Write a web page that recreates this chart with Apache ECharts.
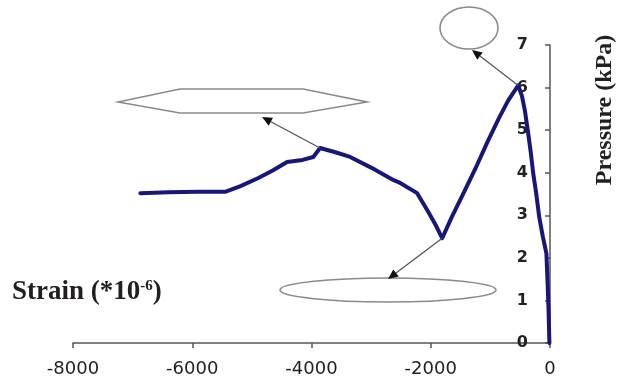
<!DOCTYPE html>
<html><head><meta charset="utf-8">
<script src="https://cdn.jsdelivr.net/npm/echarts@6/dist/echarts.min.js"></script>
<style>html,body{margin:0;padding:0;background:#fff}#c{width:627px;height:382px}</style>
</head><body><div id="c"></div>
<script>
// Data
const strain = [-6870,-6400,-5900,-5450,-5200,-4900,-4650,-4410,-4150,-3970,-3856,-3600,-3352,-3000,-2630,-2513,-2228,-2050,-1920,-1808,-1650,-1450,-1250,-1050,-850,-700,-533,-470,-420,-366,-320,-282,-230,-181,-120,-60,-40,-25,-10];
const pressure = [3.52,3.54,3.55,3.55,3.68,3.87,4.05,4.25,4.30,4.37,4.58,4.48,4.37,4.12,3.83,3.76,3.52,3.10,2.78,2.46,2.95,3.52,4.10,4.72,5.30,5.70,6.05,5.80,5.45,4.93,4.45,3.99,3.50,2.96,2.50,2.10,1.40,0.80,0];
const xTicks = {min:-8000, max:0, step:2000};
const yTicks = {min:0, max:7, step:1};
const annotationPoints = [[-3856,4.58],[-1808,2.46],[-533,6.05]];

const chart = echarts.init(document.getElementById('c'), null, {renderer:'canvas'});
const serif = 'Liberation Serif, Times New Roman, serif';
chart.setOption({
  animation:false,
  grid:{left:73,right:77,top:45,bottom:39},
  xAxis:{type:'value',min:xTicks.min,max:xTicks.max,interval:xTicks.step,
    axisLine:{onZero:false,lineStyle:{color:'#555',width:1.5}},
    axisTick:{length:5,lineStyle:{color:'#555',width:1.5}},
    axisLabel:{fontFamily:'DejaVu Sans',fontSize:18,color:'#222',margin:17,formatter:v=>String(v)},
    splitLine:{show:false}},
  yAxis:{type:'value',position:'right',min:yTicks.min,max:yTicks.max,interval:yTicks.step,
    axisLine:{show:true,onZero:false,lineStyle:{color:'#555',width:1.5}},
    axisTick:{show:true,inside:true,length:5,lineStyle:{color:'#555',width:1.5}},
    axisLabel:{inside:true,margin:22,fontFamily:'DejaVu Sans',fontWeight:'bold',fontSize:16,color:'#222',formatter:v=>String(v)},
    splitLine:{show:false}},
  series:[{type:'line',data:strain.map((s,i)=>[s,pressure[i]]),symbol:'none',smooth:false,
    lineStyle:{color:'#17177a',width:4,join:'round',cap:'round'},z:3}]
});

function arrow(from,to){
  const dx=to[0]-from[0], dy=to[1]-from[1], L=Math.hypot(dx,dy), ux=dx/L, uy=dy/L;
  const hl=10, hw=4.5;
  const bx=to[0]-ux*hl, by=to[1]-uy*hl;
  return [
    {type:'line',shape:{x1:from[0],y1:from[1],x2:bx,y2:by},style:{stroke:'#555',lineWidth:1.3},z:10},
    {type:'polygon',shape:{points:[[to[0],to[1]],[bx-uy*hw,by+ux*hw],[bx+uy*hw,by-ux*hw]]},style:{fill:'#111'},z:10}
  ];
}
const p = annotationPoints.map(d=>chart.convertToPixel({gridIndex:0},d));
const shapeStyle={fill:'#fff',stroke:'#8a8a8a',lineWidth:1.6};
const g=[
  {type:'polygon',shape:{points:[[118,102],[180,89],[303,89],[367,102],[303,113],[180,113]]},style:shapeStyle,z:9},
  {type:'ellipse',shape:{cx:388,cy:290,rx:108,ry:12},style:shapeStyle,z:9},
  {type:'ellipse',shape:{cx:469,cy:28,rx:29,ry:21},style:shapeStyle,z:9},
  ...arrow(p[0],[262,117]),
  ...arrow(p[1],[388,279]),
  ...arrow(p[2],[472,50]),
  {type:'text',x:12,y:279,style:{text:'{a|Strain (*10}{s|-6}{a|)}',rich:{
      a:{fontFamily:serif,fontWeight:'bold',fontSize:27,fill:'#231f20'},
      s:{fontFamily:serif,fontWeight:'bold',fontSize:15,fill:'#231f20',padding:[0,0,12,0]}}},z:10},
  {type:'text',x:605,y:110,rotation:Math.PI/2,style:{text:'Pressure (kPa)',font:'bold 24px '+serif,fill:'#231f20',align:'center',verticalAlign:'middle'},z:10}
];
chart.setOption({graphic:g});
</script></body></html>
